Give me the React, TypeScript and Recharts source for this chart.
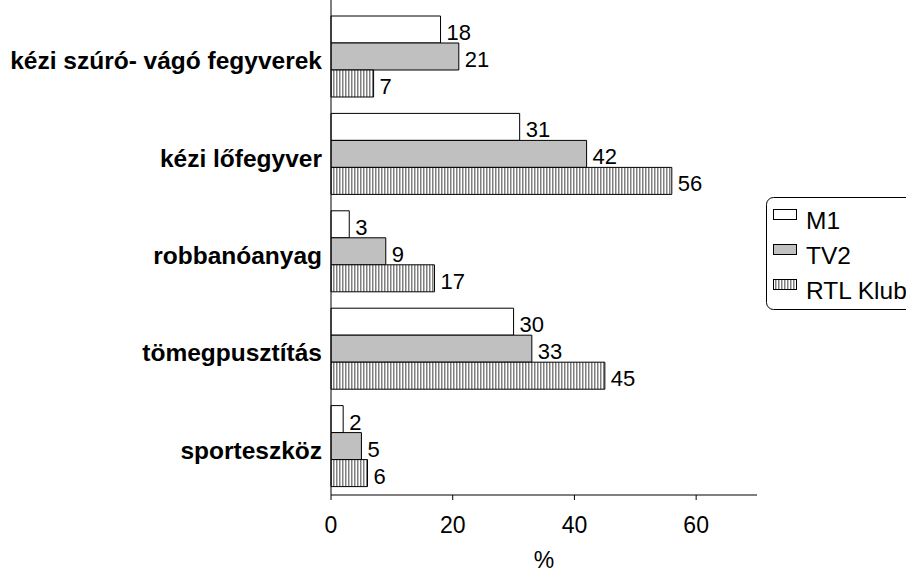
import { Bar, BarChart, LabelList, Legend, XAxis, YAxis } from 'recharts'

const CATEGORIES = [
  'kézi szúró- vágó fegyverek',
  'kézi lőfegyver',
  'robbanóanyag',
  'tömegpusztítás',
  'sporteszköz',
]
const M1_VALUES = [18, 31, 3, 30, 2]
const TV2_VALUES = [21, 42, 9, 33, 5]
const RTL_VALUES = [7, 56, 17, 45, 6]
const X_TICKS = [0, 20, 40, 60]

const FONT = '"Liberation Sans", Arial, sans-serif'

const SERIES = [
  { key: 'm1', name: 'M1', fill: '#ffffff' },
  { key: 'tv2', name: 'TV2', fill: '#c0c0c0' },
  { key: 'rtl', name: 'RTL Klub', fill: 'url(#stripes)' },
]

const chartData = CATEGORIES.map((name, i) => ({
  name,
  m1: M1_VALUES[i],
  tv2: TV2_VALUES[i],
  rtl: RTL_VALUES[i],
}))

// value sits just right of the bar, a bit below its middle
const ValueLabel = (props: any) => {
  const { x, y, width, height, value } = props
  return (
    <text
      x={x + width + 6}
      y={y + height - 3}
      fontSize={22}
      fontFamily={FONT}
      fill="#000"
    >
      {value}
    </text>
  )
}

const CategoryTick = (props: any) => {
  const { x, y, payload } = props
  return (
    <text
      x={x}
      y={y + 4}
      textAnchor="end"
      dominantBaseline="central"
      fontSize={24.5}
      fontWeight="bold"
      fontFamily={FONT}
      fill="#000"
    >
      {payload.value}
    </text>
  )
}

const renderLegend = () => (
  <svg width={170} height={114}>
    <rect x={0.5} y={0.5} width={168} height={112} rx={7} fill="#fff" stroke="#000" />
    {SERIES.map((s, i) => {
      const cy = 23 + i * 35
      return (
        <g key={s.key}>
          <rect x={7.5} y={cy - 10.5} width={23} height={10} fill={s.fill} stroke="#000" />
          <text x={40} y={cy + 8.5} fontSize={24.5} fontFamily={FONT} fill="#000">
            {s.name}
          </text>
        </g>
      )
    })}
  </svg>
)

export default function App() {
  return (
    <div
      style={{
        position: 'absolute',
        left: 0,
        top: 0,
        width: 906,
        height: 573,
        overflow: 'hidden',
        background: '#fff',
        fontFamily: FONT,
      }}
    >
      <svg width={0} height={0} style={{ position: 'absolute' }}>
        <defs>
          <pattern id="stripes" width={3} height={4} patternUnits="userSpaceOnUse">
            <rect width={3} height={4} fill="#ffffff" />
            <rect width={1.5} height={4} fill="#808080" />
          </pattern>
        </defs>
      </svg>
      <BarChart
        width={906}
        height={573}
        data={chartData}
        layout="vertical"
        margin={{ top: 0, right: 149, left: 0, bottom: 3 }}
        barSize={27}
        barGap={0}
      >
        <XAxis
          type="number"
          domain={[0, 70]}
          ticks={X_TICKS}
          height={75}
          tickSize={5}
          tickMargin={17}
          stroke="#000"
          tick={{ fontSize: 23, fill: '#000', fontFamily: FONT }}
          label={{
            value: '%',
            position: 'insideBottom',
            offset: 2,
            fontSize: 23,
            fill: '#000',
            fontFamily: FONT,
          }}
        />
        <YAxis
          type="category"
          dataKey="name"
          width={331}
          padding={{ top: 8, bottom: 0 }}
          tickLine={false}
          tickSize={0}
          tickMargin={9}
          stroke="#000"
          tick={CategoryTick}
        />
        <Legend
          layout="vertical"
          align="center"
          verticalAlign="middle"
          content={renderLegend}
          wrapperStyle={{ position: 'absolute', left: 766, top: 197, width: 170, height: 114 }}
        />
        {SERIES.map((s) => (
          <Bar
            key={s.key}
            dataKey={s.key}
            name={s.name}
            fill={s.fill}
            stroke="#000"
            strokeWidth={1}
            isAnimationActive={false}
          >
            <LabelList dataKey={s.key} content={ValueLabel} />
          </Bar>
        ))}
      </BarChart>
    </div>
  )
}
